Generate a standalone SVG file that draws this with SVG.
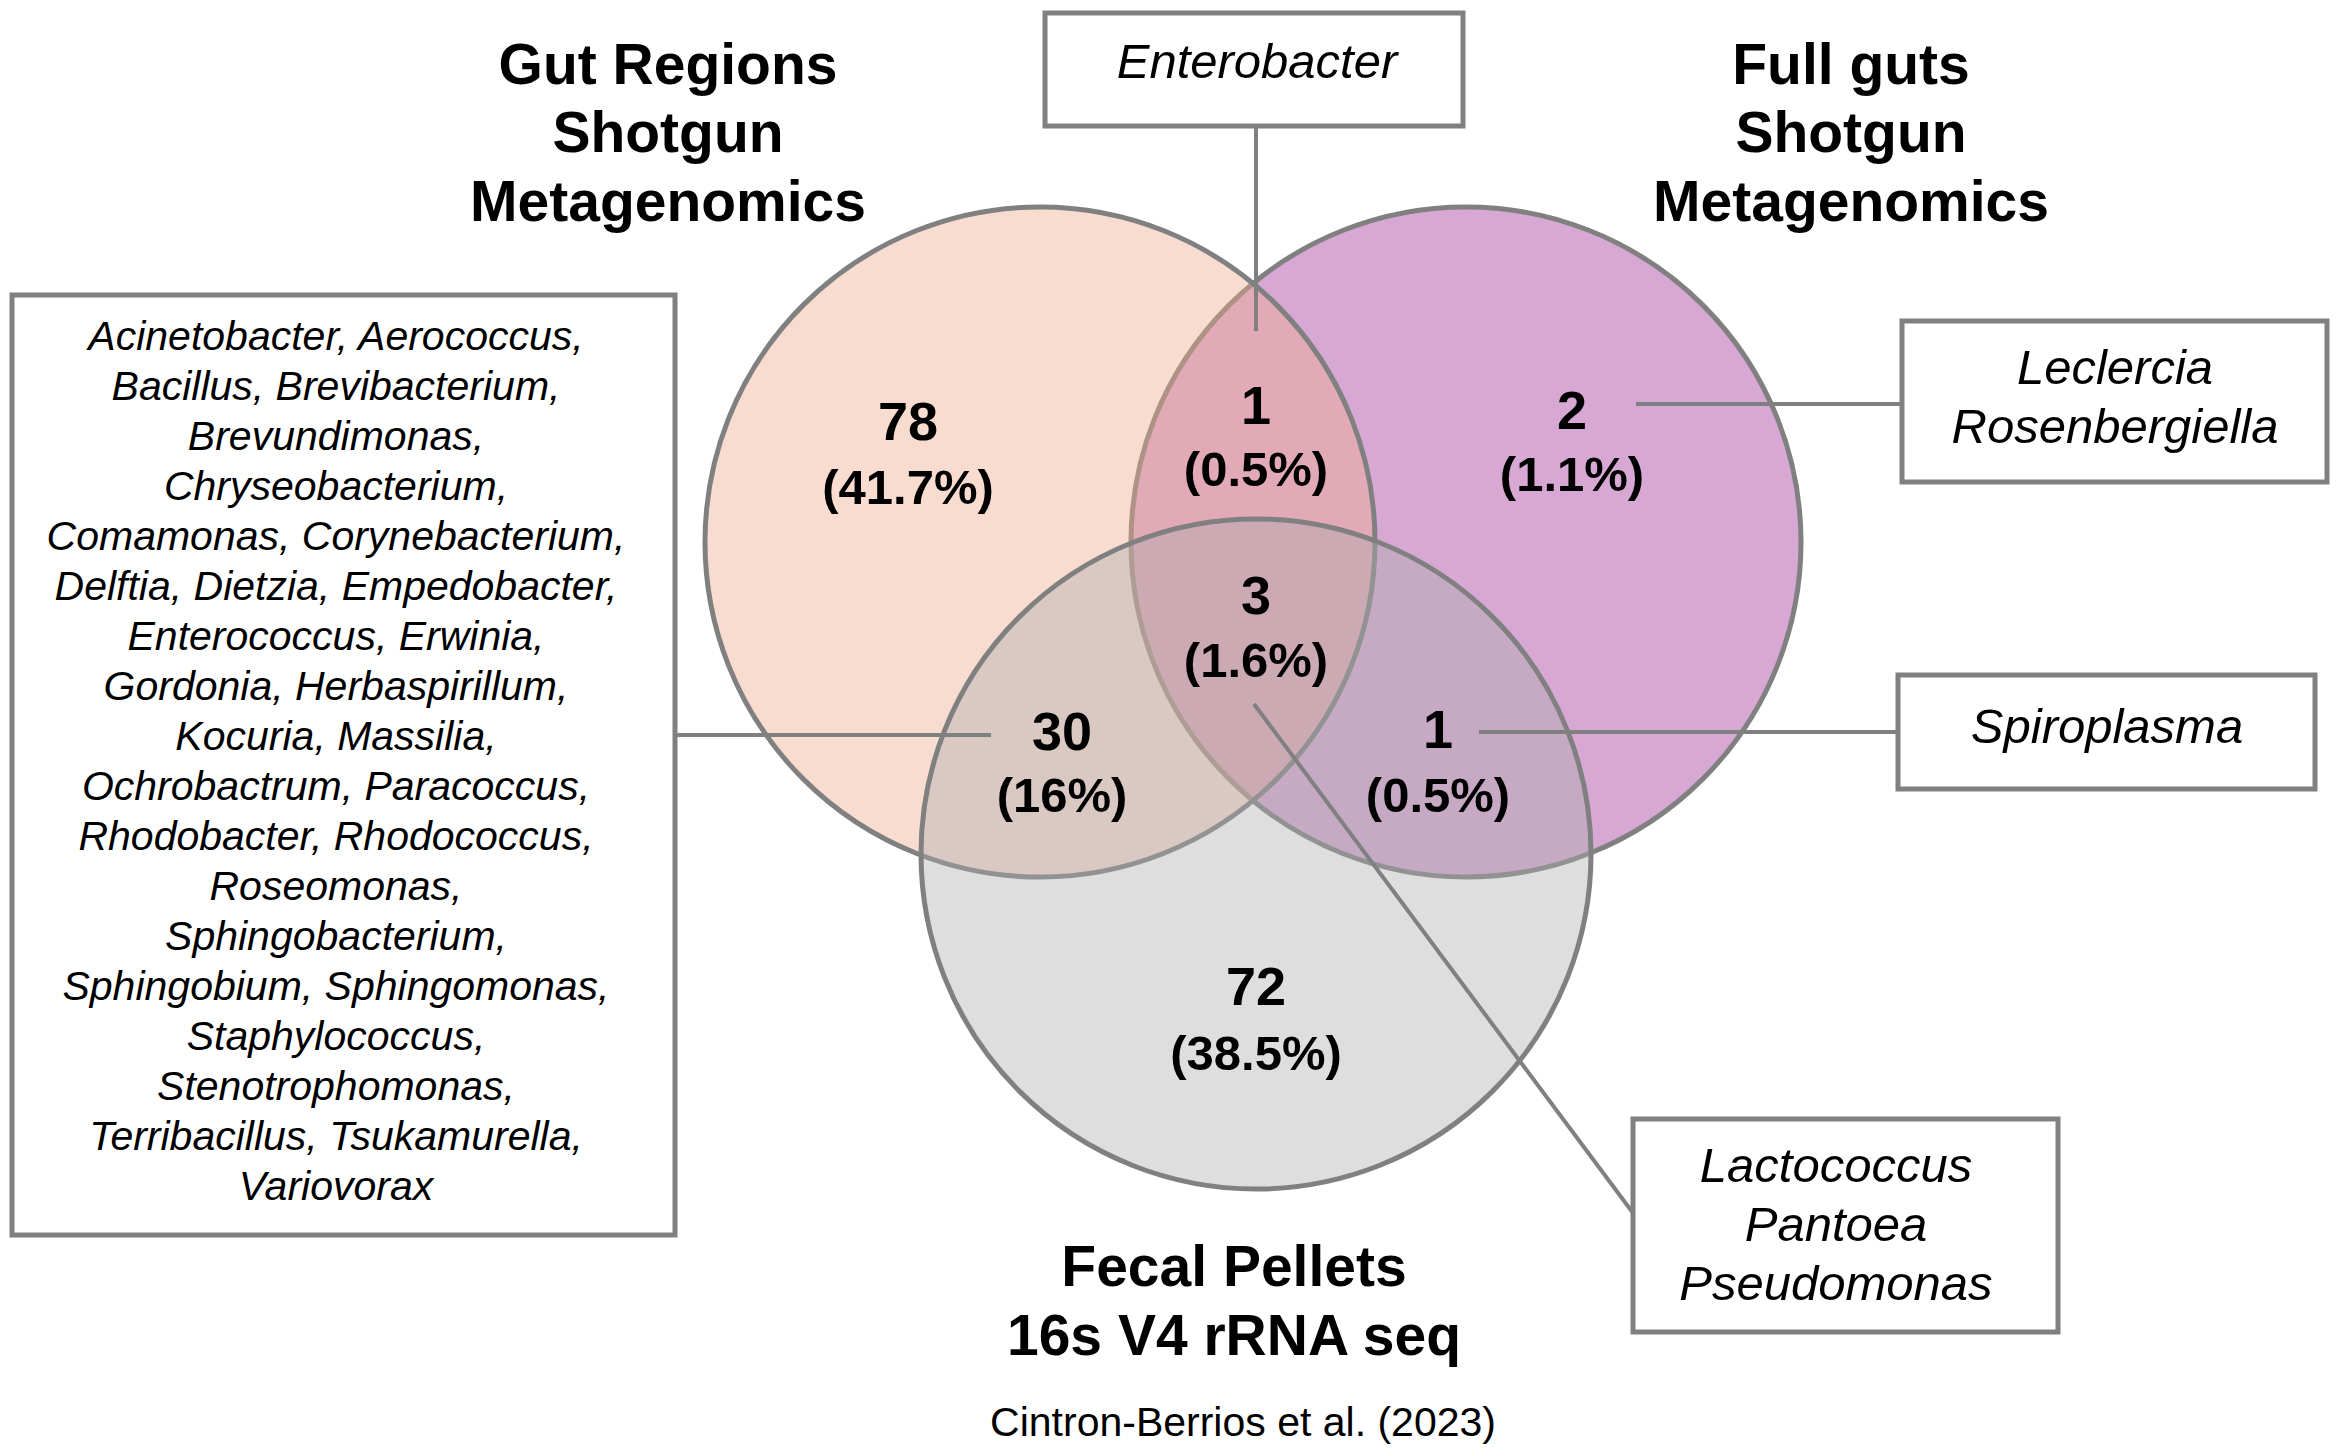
<svg xmlns="http://www.w3.org/2000/svg" width="2339" height="1456" viewBox="0 0 2339 1456">
<style>
.title{font-family:"Liberation Sans",Arial,sans-serif;font-weight:bold;font-size:57px;text-anchor:middle;fill:#000}
.num{font-family:"Liberation Sans",Arial,sans-serif;font-weight:bold;font-size:49px;text-anchor:middle;fill:#000}
.big{font-size:54px}
.lab{font-family:"Liberation Sans",Arial,sans-serif;font-style:italic;font-size:49px;text-anchor:middle;fill:#000}
.list{font-family:"Liberation Sans",Arial,sans-serif;font-style:italic;font-size:41px;text-anchor:middle;fill:#000}
.cred{font-family:"Liberation Sans",Arial,sans-serif;font-size:41px;text-anchor:middle;fill:#000}
.circ{stroke:#808080;stroke-width:5}
.box{fill:#fff;stroke:#808080;stroke-width:5}
.conn{stroke:#808080;stroke-width:4;fill:none}
</style>
<rect width="2339" height="1456" fill="#fff"/>
<g id="circle-full-guts"><circle class="circ" cx="1466" cy="542" r="335" fill="#D8A8D4"/></g>
<g id="circle-gut-regions"><circle class="circ" cx="1040" cy="542" r="335" fill="#F1AC8F" fill-opacity="0.42"/></g>
<g id="circle-fecal"><circle class="circ" cx="1256" cy="854" r="335" fill="#ACACAC" fill-opacity="0.4"/></g>

<g id="title-gut-regions">
<text class="title" x="668" y="84">Gut Regions</text>
<text class="title" x="668" y="152">Shotgun</text>
<text class="title" x="668" y="221">Metagenomics</text>
</g>
<g id="title-full-guts">
<text class="title" x="1851" y="84">Full guts</text>
<text class="title" x="1851" y="152">Shotgun</text>
<text class="title" x="1851" y="221">Metagenomics</text>
</g>
<g id="title-fecal">
<text class="title" x="1234" y="1286">Fecal Pellets</text>
<text class="title" x="1234" y="1355">16s V4 rRNA seq</text>
</g>

<g id="connectors">
<line class="conn" x1="1256" y1="126" x2="1256" y2="331"/>
<line class="conn" x1="1636" y1="404" x2="1902" y2="404"/>
<line class="conn" x1="1479" y1="732" x2="1898" y2="732"/>
<line class="conn" x1="1254" y1="704" x2="1633" y2="1213"/>
<line class="conn" x1="675" y1="735" x2="991" y2="735"/>
</g>

<g id="count-gut-only"><text class="num big" x="908" y="440">78</text><text class="num" x="908" y="504">(41.7%)</text></g>
<g id="count-gut-full"><text class="num big" x="1256" y="424">1</text><text class="num" x="1256" y="486">(0.5%)</text></g>
<g id="count-full-only"><text class="num big" x="1572" y="429">2</text><text class="num" x="1572" y="491">(1.1%)</text></g>
<g id="count-all"><text class="num big" x="1256" y="614">3</text><text class="num" x="1256" y="677">(1.6%)</text></g>
<g id="count-gut-fecal"><text class="num big" x="1062" y="750">30</text><text class="num" x="1062" y="812">(16%)</text></g>
<g id="count-full-fecal"><text class="num big" x="1438" y="748">1</text><text class="num" x="1438" y="812">(0.5%)</text></g>
<g id="count-fecal-only"><text class="num big" x="1256" y="1005">72</text><text class="num" x="1256" y="1070">(38.5%)</text></g>

<g id="box-enterobacter">
<rect class="box" x="1045" y="13" width="418" height="113"/>
<text class="lab" x="1257" y="78">Enterobacter</text>
</g>
<g id="box-leclercia">
<rect class="box" x="1902" y="321" width="425" height="161"/>
<text class="lab" x="2115" y="384">Leclercia</text>
<text class="lab" x="2115" y="443">Rosenbergiella</text>
</g>
<g id="box-spiroplasma">
<rect class="box" x="1898" y="675" width="417" height="114"/>
<text class="lab" x="2107" y="743">Spiroplasma</text>
</g>
<g id="box-lactococcus">
<rect class="box" x="1633" y="1119" width="425" height="213"/>
<text class="lab" x="1836" y="1182">Lactococcus</text>
<text class="lab" x="1836" y="1241">Pantoea</text>
<text class="lab" x="1836" y="1300">Pseudomonas</text>
</g>
<g id="box-list">
<rect class="box" x="12" y="295" width="663" height="940"/>
<text class="list" x="336" y="350">Acinetobacter, Aerococcus,</text>
<text class="list" x="336" y="400">Bacillus, Brevibacterium,</text>
<text class="list" x="336" y="450">Brevundimonas,</text>
<text class="list" x="336" y="500">Chryseobacterium,</text>
<text class="list" x="336" y="550">Comamonas, Corynebacterium,</text>
<text class="list" x="336" y="600">Delftia, Dietzia, Empedobacter,</text>
<text class="list" x="336" y="650">Enterococcus, Erwinia,</text>
<text class="list" x="336" y="700">Gordonia, Herbaspirillum,</text>
<text class="list" x="336" y="750">Kocuria, Massilia,</text>
<text class="list" x="336" y="800">Ochrobactrum, Paracoccus,</text>
<text class="list" x="336" y="850">Rhodobacter, Rhodococcus,</text>
<text class="list" x="336" y="900">Roseomonas,</text>
<text class="list" x="336" y="950">Sphingobacterium,</text>
<text class="list" x="336" y="1000">Sphingobium, Sphingomonas,</text>
<text class="list" x="336" y="1050">Staphylococcus,</text>
<text class="list" x="336" y="1100">Stenotrophomonas,</text>
<text class="list" x="336" y="1150">Terribacillus, Tsukamurella,</text>
<text class="list" x="336" y="1200">Variovorax</text>
</g>
<g id="credit"><text class="cred" x="1243" y="1436">Cintron-Berrios et al. (2023)</text></g>
</svg>
